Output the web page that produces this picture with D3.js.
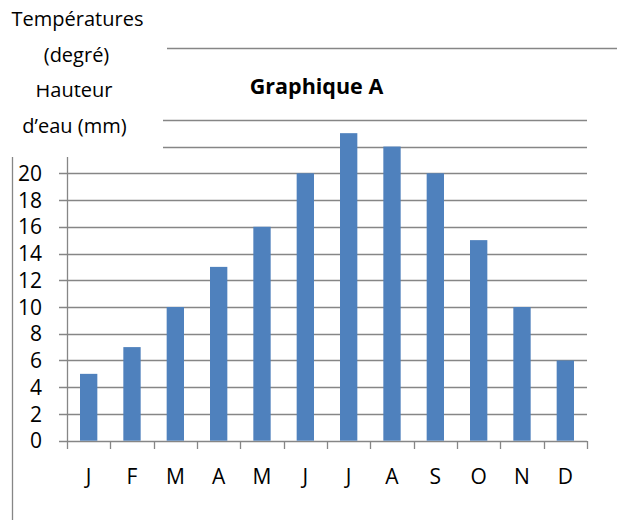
<!DOCTYPE html>
<html>
<head>
<meta charset="utf-8">
<script src="https://cdn.jsdelivr.net/npm/d3@7"></script>
<style>
  html, body { margin: 0; padding: 0; background: #fff; }
  svg { display: block; }
  text { font-family: "Open Sans", "DejaVu Sans", sans-serif; fill: #000; }
</style>
</head>
<body>
<svg id="chart" width="617" height="520"></svg>
<script>
const months = ["J", "F", "M", "A", "M", "J", "J", "A", "S", "O", "N", "D"];
const values = [5, 7, 10, 13, 16, 20, 23, 22, 20, 15, 10, 6];
const gridTicks = [0, 2, 4, 6, 8, 10, 12, 14, 16, 18, 20, 22, 24];
const labelTicks = [0, 2, 4, 6, 8, 10, 12, 14, 16, 18, 20];
const title = "Graphique A";
const axisTitle = ["Températures", "(degré)", "Hauteur", "d\u2019eau (mm)"];

const svg = d3.select("#chart");
const keys = months.map((m, i) => i);

const x = d3.scaleBand().domain(keys).range([67, 587]).paddingInner(0.6).paddingOuter(0.3);
const xEdge = d3.scaleLinear().domain([0, months.length]).range([67, 587]);
const y = d3.scaleLinear().domain([0, 24]).range([440.7, 119.8]);

const gridColor = "#868686";

// gridlines
svg.append("g").selectAll("line").data(gridTicks).join("line")
  .attr("x1", d => d <= 20 ? 59 : 163)
  .attr("x2", 587)
  .attr("y1", d => Math.round(y(d)) + 0.5)
  .attr("y2", d => Math.round(y(d)) + 0.5)
  .attr("stroke", gridColor).attr("stroke-width", 1.3);

// decorative rule at top
svg.append("line").attr("x1", 167).attr("x2", 617).attr("y1", 48.5).attr("y2", 48.5)
  .attr("stroke", gridColor).attr("stroke-width", 1.3);

// bars
svg.append("g").selectAll("rect").data(values).join("rect")
  .attr("x", (d, i) => x(i))
  .attr("width", x.bandwidth())
  .attr("y", d => y(d))
  .attr("height", d => y(0) - y(d))
  .attr("fill", "#4f81bd");

// y axis line
svg.append("line").attr("x1", 67.5).attr("x2", 67.5).attr("y1", 157).attr("y2", y(0) + 0.5)
  .attr("stroke", gridColor).attr("stroke-width", 1.3);
// left border
svg.append("line").attr("x1", 12.5).attr("x2", 12.5).attr("y1", 157).attr("y2", 520)
  .attr("stroke", gridColor).attr("stroke-width", 1.3);

// x axis ticks at category boundaries
svg.append("g").selectAll("line").data(d3.range(months.length + 1)).join("line")
  .attr("x1", d => Math.round(xEdge(d)) + 0.5)
  .attr("x2", d => Math.round(xEdge(d)) + 0.5)
  .attr("y1", Math.round(y(0)))
  .attr("y2", Math.round(y(0)) + 8)
  .attr("stroke", gridColor).attr("stroke-width", 1.3);

// y labels
svg.append("g").selectAll("text").data(labelTicks).join("text")
  .attr("x", 42)
  .attr("y", d => y(d))
  .attr("dy", "0.36em")
  .attr("text-anchor", "end")
  .attr("font-size", 21)
  .text(d => d);

// x labels
svg.append("g").selectAll("text").data(months).join("text")
  .attr("x", (d, i) => x(i) + x.bandwidth() / 2)
  .attr("y", 484)
  .attr("text-anchor", "middle")
  .attr("font-size", 21)
  .text(d => d);

// title
svg.append("text").attr("x", 316.5).attr("y", 93.5).attr("text-anchor", "middle")
  .attr("font-size", 21.5).attr("font-weight", "bold").text(title);

// axis title (text boxes)
svg.append("defs").append("clipPath").attr("id", "clipH")
  .append("rect").attr("x", 0).attr("y", 85).attr("width", 160).attr("height", 40);

const tpos = [[77.5, 25.5], [76.5, 61.5], [74, 97], [74.5, 133]];
axisTitle.forEach((t, i) => {
  const el = svg.append("text").attr("x", tpos[i][0]).attr("y", tpos[i][1])
    .attr("text-anchor", "middle").attr("font-size", 20).text(t);
  if (i === 2) el.attr("clip-path", "url(#clipH)");
});
</script>
</body>
</html>
